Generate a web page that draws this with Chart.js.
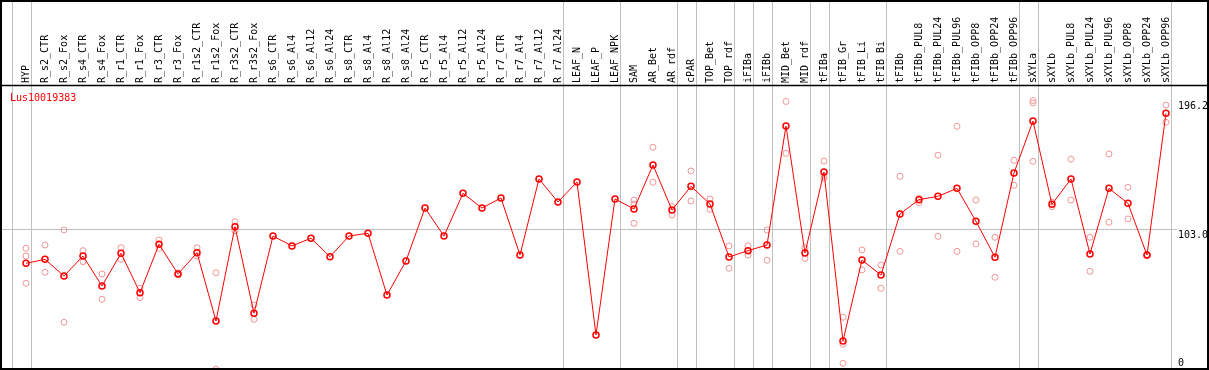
<!DOCTYPE html>
<html><head><meta charset="utf-8">
<script src="https://cdn.jsdelivr.net/npm/chart.js@4"></script>
<style>html,body{margin:0;padding:0;background:#fff;overflow:hidden}#wrap{width:1209px;height:370px;position:relative}</style>
</head><body><div id="wrap"><canvas id="c" width="1209" height="370"></canvas></div>
<script>
const categories = ['HYP','R_s2_CTR','R_s2_Fox','R_s4_CTR','R_s4_Fox','R_r1_CTR','R_r1_Fox','R_r3_CTR','R_r3_Fox','R_r1s2_CTR','R_r1s2_Fox','R_r3s2_CTR','R_r3s2_Fox','R_s6_CTR','R_s6_Al4','R_s6_Al12','R_s6_Al24','R_s8_CTR','R_s8_Al4','R_s8_Al12','R_s8_Al24','R_r5_CTR','R_r5_Al4','R_r5_Al12','R_r5_Al24','R_r7_CTR','R_r7_Al4','R_r7_Al12','R_r7_Al24','LEAF_N','LEAF_P','LEAF_NPK','SAM','AR_Bet','AR_rdf','cPAR','TOP_Bet','TOP_rdf','iFIBa','iFIBb','MID_Bet','MID_rdf','tFIBa','tFIB_Gr','tFIB_Li','tFIB_Bi','tFIBb','tFIBb_PUL8','tFIBb_PUL24','tFIBb_PUL96','tFIBb_OPP8','tFIBb_OPP24','tFIBb_OPP96','sXYLa','sXYLb','sXYLb_PUL8','sXYLb_PUL24','sXYLb_PUL96','sXYLb_OPP8','sXYLb_OPP24','sXYLb_OPP96'];
const meanValues = [78.1,81.0,68.9,83.4,61.7,85.4,56.8,91.9,70.4,85.8,36.3,104.7,41.9,97.9,90.7,96.3,82.9,97.9,99.9,55.1,79.8,118.2,97.9,128.9,118.2,125.5,84.1,139.3,122.6,137.1,26.1,124.8,117.5,149.4,116.8,134.0,121.1,82.7,87.3,91.4,177.7,85.6,144.3,21.8,80.5,69.6,113.9,124.3,126.7,132.5,108.6,82.5,143.6,181.3,120.9,139.3,84.9,132.5,121.6,84.1,186.9];
const replicateValues = [
  [89.0,83.4,63.6],[91.4,71.6],[102.3,35.3],[87.3,79.3],[70.4,52.0],[89.4,81.0],[60.0,53.2],[95.0,89.0],[71.0,69.8],[89.4,83.4],
  [71.3,1.2],[108.3,101.8],[47.9,37.5],[],[],[],[],[],[],[],
  [],[],[],[],[],[],[],[],[],[],
  [],[],[124.0,121.1,107.1],[162.3,136.9],[119.2,113.2],[145.1,123.3],[124.8,117.3],[90.7,74.5],[90.9,84.1],[102.3,80.3],
  [195.5,157.9],[89.4,81.7],[152.3,141.4,139.8],[39.0,19.4,5.6],[87.8,73.3],[76.9,60.0],[141.2,86.8],[125.3,122.1],[156.5,97.7],[177.5,86.8],
  [124.0,92.3],[97.0,68.0],[152.8,134.7],[196.2,194.4,152.1],[122.5,119.2],[153.6,124.0],[97.0,72.3],[157.4,107.9],[133.3,110.3],[84.6,83.6],
  [192.9,180.4]
];
const yTickValues = [0, 103.0, 196.2];
const yTickLabels = ['0', '103.0', '196.2'];
const groupSeparatorsAfter = [-1,0,28,31,34,35,37,38,39,41,42,45,52,53,60];
const seriesName = 'Lus10019383';

const FONT = 'DejaVu Sans Mono';
Chart.defaults.font.family = FONT;
Chart.defaults.font.size = 10;

const meanPoints = meanValues.map((v, i) => ({x: i, y: v}));
const repPoints = [];
replicateValues.forEach((arr, i) => arr.forEach(v => repPoints.push({x: i, y: v})));

const decor = {
  id: 'decor',
  beforeDatasetsDraw(chart) {
    const ctx = chart.ctx, xs = chart.scales.x;
    ctx.save();
    ctx.strokeStyle = '#c0c0c0';
    ctx.lineWidth = 1;
    groupSeparatorsAfter.forEach(i => {
      const x = Math.round(xs.getPixelForValue(i + 0.24)) + 0.5;
      ctx.beginPath(); ctx.moveTo(x, 0); ctx.lineTo(x, 370); ctx.stroke();
    });
    ctx.restore();
  },
  afterDraw(chart) {
    const ctx = chart.ctx, ys = chart.scales.y;
    ctx.save();
    ctx.strokeStyle = '#000';
    ctx.lineWidth = 2;
    ctx.strokeRect(1, 1, 1207, 368);
    ctx.lineWidth = 1.5;
    ctx.beginPath(); ctx.moveTo(0, 85.5); ctx.lineTo(1209, 85.5); ctx.stroke();
    ctx.font = '10px "' + FONT + '"';
    ctx.textBaseline = 'top';
    ctx.textAlign = 'left';
    ctx.fillStyle = '#ff0000';
    ctx.fillText(seriesName, 10, 93);
    ctx.fillStyle = '#000';
    yTickValues.forEach((v, k) => {
      const y = Math.min(ys.getPixelForValue(v) + 1, 358);
      ctx.fillText(yTickLabels[k], 1178, y);
    });
    ctx.restore();
  }
};

new Chart(document.getElementById('c'), {
  type: 'line',
  data: {
    datasets: [
      {
        type: 'line', label: seriesName, data: meanPoints, order: 0,
        borderColor: '#ff0000', borderWidth: 1, backgroundColor: 'rgba(0,0,0,0)',
        pointRadius: 3, pointBorderWidth: 1.5, pointBorderColor: '#ff0000',
        pointBackgroundColor: 'rgba(0,0,0,0)', tension: 0, clip: false
      },
      {
        type: 'scatter', label: 'replicates', data: repPoints, order: 1,
        showLine: false, pointRadius: 3, pointBorderWidth: 1,
        pointBorderColor: 'rgb(240,150,150)', pointBackgroundColor: 'rgba(0,0,0,0)', clip: false
      }
    ]
  },
  options: {
    responsive: false, animation: false, devicePixelRatio: 1,
    layout: {autoPadding: false, padding: {left: 1, right: 0, top: 0, bottom: 0}},
    plugins: {legend: {display: false}, tooltip: {enabled: false}},
    scales: {
      x: {
        type: 'linear', position: 'top', min: -1.316, max: 60.58,
        afterBuildTicks: s => { s.ticks = categories.map((_, i) => ({value: i})); },
        afterFit: s => { s.height = 86; s.paddingLeft = 0; s.paddingRight = 0; },
        ticks: {
          autoSkip: false, maxRotation: 90, minRotation: 90, padding: 3, color: '#000',
          labelOffset: 12,
          font: {family: FONT, size: 10},
          callback: v => categories[v]
        },
        grid: {display: false, drawTicks: false}, border: {display: false}
      },
      y: {
        type: 'linear', position: 'right', min: 0.725, max: 206.73,
        afterBuildTicks: s => { s.ticks = yTickValues.map(v => ({value: v})); },
        afterFit: s => { s.width = 32; s.paddingTop = 0; s.paddingBottom = 0; },
        ticks: {display: false},
        grid: {drawTicks: false, color: c => (c.tick && c.tick.value === 103) ? '#c0c0c0' : 'rgba(0,0,0,0)'},
        border: {display: false}
      }
    }
  },
  plugins: [decor]
});
</script>
</body></html>
